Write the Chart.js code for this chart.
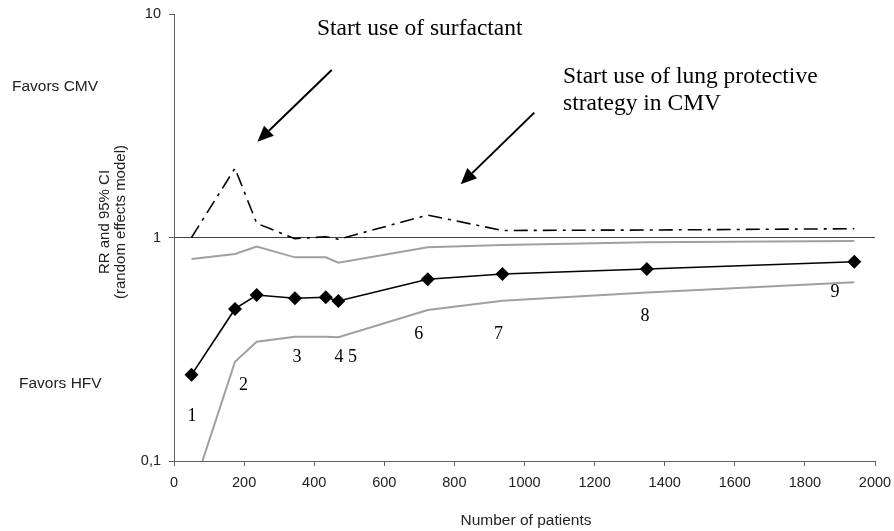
<!DOCTYPE html>
<html>
<head>
<meta charset="utf-8">
<script src="https://cdn.jsdelivr.net/npm/chart.js@4.4.0/dist/chart.umd.min.js"></script>
<style>
html,body{margin:0;padding:0;background:#fff}
#wrap{width:894px;height:531px}
</style>
</head>
<body>
<div id="wrap"><canvas id="grafico" width="894" height="531"></canvas></div>
<script>
// ===== DATOS =====
const patients=[50,174,236,345,433,469,724,937,1349,1941];
const rr=[0.243,0.479,0.553,0.535,0.540,0.520,0.650,0.687,0.723,0.779];
const ciUpper=[0.801,0.844,0.910,0.815,0.815,0.771,0.904,0.926,0.952,0.965];
const ciLower=[0.071,0.278,0.342,0.360,0.360,0.358,0.474,0.521,0.568,0.630];
const dashDot=[1.0,2.04,1.157,0.988,1.008,0.982,1.26,1.075,1.08,1.095];

const xMax=2000, xStep=200;
const yTicks=[0.1,1,10];
const yTickLabels=["0,1","1","10"];

// numeros de estudio (x en pacientes, y en RR)
const studyLabels=["1","2","3","4 5","6","7","8","9"];
const studyX=[51,198,351,490,698,926,1344,1886];
const studyY=[0.159,0.218,0.29,0.29,0.37,0.369,0.445,0.57];

// flechas: [x1,y1,x2,y2] en unidades de datos
const arrows=[[450,5.62,238,2.68],[1028,3.62,818,1.73]];

const serif="'Liberation Serif','Times New Roman',serif";
const sans="'Liberation Sans',Arial,sans-serif";

const pts=v=>patients.map((x,i)=>({x:x,y:v[i]}));

// ===== ANOTACIONES =====
const anotaciones={
 id:"anotaciones",
 afterDatasetsDraw(chart){
  const c=chart.ctx, X=chart.scales.x, Y=chart.scales.y;
  c.save();
  c.fillStyle="#000";
  c.strokeStyle="#000";

  // textos de eventos
  c.font="23.5px "+serif;
  c.textAlign="left";
  c.textBaseline="alphabetic";
  c.fillText("Start use of surfactant",X.getPixelForValue(408),Y.getPixelForValue(8.05));
  c.fillText("Start use of lung protective",X.getPixelForValue(1110),Y.getPixelForValue(4.91));
  c.fillText("strategy in CMV",X.getPixelForValue(1110),Y.getPixelForValue(3.72));

  // flechas
  arrows.forEach(a=>{
   const x1=X.getPixelForValue(a[0]),y1=Y.getPixelForValue(a[1]);
   const x2=X.getPixelForValue(a[2]),y2=Y.getPixelForValue(a[3]);
   const ang=Math.atan2(y2-y1,x2-x1);
   const hl=16,hw=7;
   const bx=x2-Math.cos(ang)*hl,by=y2-Math.sin(ang)*hl;
   c.lineWidth=2;
   c.beginPath();c.moveTo(x1,y1);c.lineTo(bx,by);c.stroke();
   c.beginPath();
   c.moveTo(x2,y2);
   c.lineTo(bx+Math.sin(ang)*hw,by-Math.cos(ang)*hw);
   c.lineTo(bx-Math.sin(ang)*hw,by+Math.cos(ang)*hw);
   c.closePath();c.fill();
  });

  // numeros
  c.font="18px "+serif;
  c.textAlign="center";
  c.textBaseline="middle";
  studyLabels.forEach((t,i)=>c.fillText(t,X.getPixelForValue(studyX[i]),Y.getPixelForValue(studyY[i])));

  // etiquetas laterales
  c.fillStyle="#222";
  c.font="15.5px "+sans;
  c.textAlign="left";
  c.fillText("Favors CMV",12,Y.getPixelForValue(4.71));
  c.fillText("Favors HFV",19,Y.getPixelForValue(0.221));

  // titulo eje y
  c.save();
  c.translate(105,222);
  c.rotate(-Math.PI/2);
  c.font="15px "+sans;
  c.textAlign="center";
  c.fillText("RR and 95% CI",0,0);
  c.fillText("(random effects model)",0,16);
  c.restore();

  // titulo eje x
  c.font="15.5px "+sans;
  c.textAlign="center";
  c.fillText("Number of patients",526,521);
  c.restore();
 }
};

// ===== GRAFICO =====
new Chart(document.getElementById("grafico"),{
 type:"line",
 data:{datasets:[
  {data:pts(ciUpper),borderColor:"#a0a0a0",borderWidth:2,pointRadius:0,tension:0},
  {data:pts(ciLower),borderColor:"#a0a0a0",borderWidth:2,pointRadius:0,tension:0},
  {data:pts(dashDot),borderColor:"#000",borderWidth:1.6,borderDash:[14,6,3,6],pointRadius:0,tension:0},
  {data:pts(rr),borderColor:"#000",borderWidth:1.6,pointStyle:"rectRot",pointRadius:7,
   pointBackgroundColor:"#000",pointBorderColor:"#000",pointBorderWidth:0,tension:0}
 ]},
 options:{
  responsive:false,
  animation:false,
  events:[],
  layout:{padding:{left:0,top:14,right:19,bottom:0}},
  plugins:{legend:{display:false},tooltip:{enabled:false}},
  scales:{
   x:{
    type:"linear",min:0,max:xMax,
    ticks:{stepSize:xStep,color:"#222",font:{family:sans,size:14.5},padding:8,maxRotation:0,
     callback:v=>String(v)},
    grid:{drawOnChartArea:false,tickLength:5,tickColor:"#606060"},
    border:{color:"#606060",width:1},
    afterFit(s){s.height=70;s.paddingRight=0;s.paddingLeft=0;}
   },
   y:{
    type:"logarithmic",min:0.1,max:10,
    afterBuildTicks(s){s.ticks=yTicks.map(v=>({value:v}));},
    ticks:{color:"#222",font:{family:sans,size:14.5},padding:8,
     callback:(v)=>{const i=yTicks.indexOf(v);return i>=0?yTickLabels[i]:"";}},
    grid:{color:c=>c.tick&&c.tick.value===1?"#404040":"rgba(0,0,0,0)",tickLength:5,tickColor:"#606060"},
    border:{color:"#606060",width:1},
    afterFit(s){s.width=174;s.paddingTop=0;s.paddingBottom=0;}
   }
  }
 },
 plugins:[anotaciones]
});
</script>
</body>
</html>
